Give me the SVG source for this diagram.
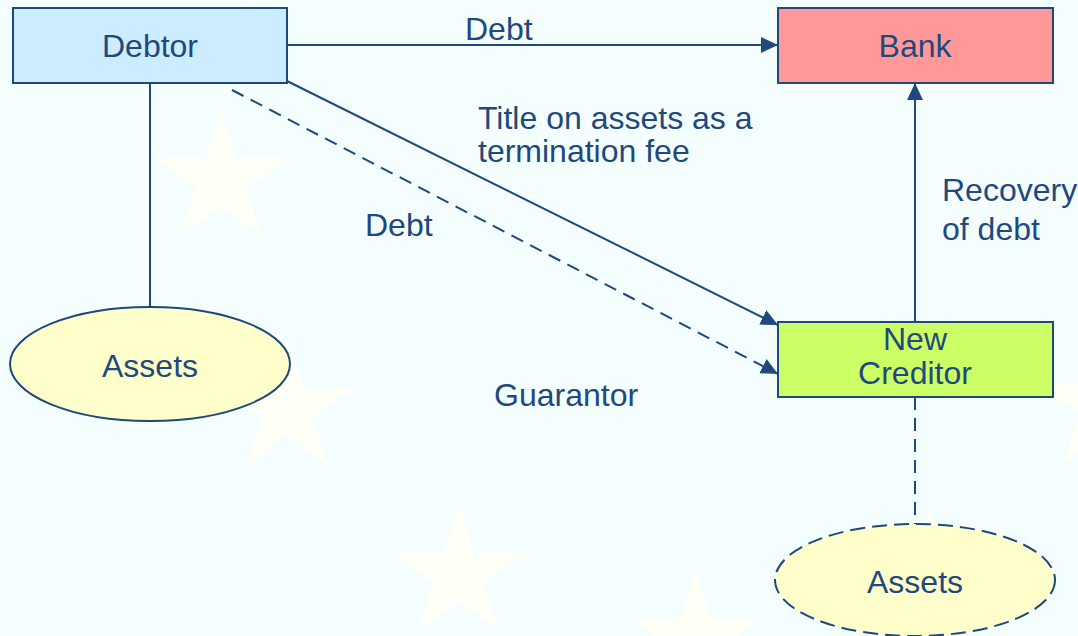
<svg xmlns="http://www.w3.org/2000/svg" width="1078" height="636" viewBox="0 0 1078 636">
<defs>
<style>
.lbl{font-family:"Liberation Sans",Arial,sans-serif;font-size:32px;fill:#1F497D}
.mid{text-anchor:middle}
.ln{stroke:#1F497D;stroke-width:2;fill:none}
.dash{stroke-dasharray:13 8}
.box{stroke:#1F497D;stroke-width:2}
.star{fill:#FEFFF6}
</style>
<marker id="arr" markerUnits="userSpaceOnUse" markerWidth="18" markerHeight="17" refX="17" refY="8" orient="auto">
<path d="M0,0 L17,8 L0,16 z" fill="#1F497D"/>
</marker>
<polygon id="st" points="0,-70 15.7,-21.6 66.6,-21.6 25.4,8.3 41.1,56.6 0,26.7 -41.1,56.6 -25.4,8.3 -66.6,-21.6 -15.7,-21.6"/>
</defs>
<rect width="1078" height="636" fill="#F4FEFF"/>
<g id="stars" class="star">
<use href="#st" x="221" y="180"/>
<use href="#st" x="287" y="409"/>
<use href="#st" x="459" y="575"/>
<use href="#st" x="696" y="640"/>
<use href="#st" x="930" y="575"/>
<use href="#st" x="1105" y="406"/>
<use href="#st" x="290" y="-52"/>
<use href="#st" x="1098" y="-52"/>
</g>
<g id="connectors">
<path class="ln" d="M287,45 H778" marker-end="url(#arr)"/>
<path class="ln" d="M287,81 L778,325" marker-end="url(#arr)"/>
<path class="ln dash" d="M232,90 L778,374" marker-end="url(#arr)"/>
<path class="ln" d="M150,83 V307"/>
<path class="ln" d="M915,322 V83" marker-end="url(#arr)"/>
<path class="ln dash" d="M915,397 V524"/>
<text class="lbl" x="465" y="40">Debt</text>
<text class="lbl" x="478" y="129">Title on assets as a</text>
<text class="lbl" x="478" y="162">termination fee</text>
<text class="lbl" x="365" y="236">Debt</text>
<text class="lbl" x="942" y="201">Recovery</text>
<text class="lbl" x="942" y="240">of debt</text>
<text class="lbl" x="494" y="406">Guarantor</text>
</g>
<g id="debtor">
<rect class="box" x="13" y="8" width="274" height="75" fill="#CCECFF"/>
<text class="lbl mid" x="150" y="57">Debtor</text>
</g>
<g id="bank">
<rect class="box" x="778" y="8" width="275" height="75" fill="#FF9999"/>
<text class="lbl mid" x="915" y="57">Bank</text>
</g>
<g id="newcreditor">
<rect class="box" x="778" y="322" width="275" height="75" fill="#CCFF66"/>
<text class="lbl mid" x="915" y="350">New</text>
<text class="lbl mid" x="915" y="384">Creditor</text>
</g>
<g id="assets1">
<ellipse class="box" cx="150" cy="364" rx="140" ry="57" fill="#FFFFCC"/>
<text class="lbl mid" x="150" y="377">Assets</text>
</g>
<g id="assets2">
<ellipse class="box" cx="915" cy="580" rx="140" ry="56" fill="#FFFFCC" stroke-dasharray="15 7"/>
<text class="lbl mid" x="915" y="593">Assets</text>
</g>
</svg>
